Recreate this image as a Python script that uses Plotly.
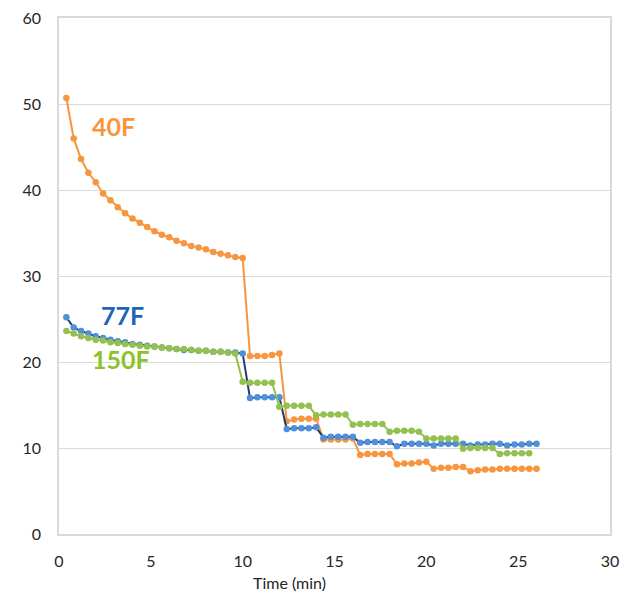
import plotly.graph_objects as go

time_a = [0.4, 0.8, 1.2, 1.6, 2.0, 2.4, 2.8, 3.2, 3.6, 4.0, 4.4, 4.8, 5.2, 5.6, 6.0, 6.4, 6.8, 7.2, 7.6, 8.0,
          8.4, 8.8, 9.2, 9.6, 10.0, 10.4, 10.8, 11.2, 11.6, 12.0, 12.4, 12.8, 13.2, 13.6, 14.0, 14.4, 14.8,
          15.2, 15.6, 16.0, 16.4, 16.8, 17.2, 17.6, 18.0, 18.4, 18.8, 19.2, 19.6, 20.0, 20.4, 20.8, 21.2,
          21.6, 22.0, 22.4, 22.8, 23.2, 23.6, 24.0, 24.4, 24.8, 25.2, 25.6, 26.0]
time_g = time_a[:64]

f40 = [50.7, 46.0, 43.6, 42.0, 40.9, 39.6, 38.8, 38.0, 37.3, 36.7, 36.2, 35.7, 35.2, 34.8, 34.5, 34.1, 33.8,
       33.5, 33.3, 33.1, 32.8, 32.6, 32.4, 32.2, 32.1,
       20.7, 20.7, 20.7, 20.8, 21.0,
       13.1, 13.3, 13.4, 13.4, 13.4,
       11.0, 11.0, 11.0, 11.0, 11.1,
       9.2, 9.3, 9.3, 9.3, 9.3,
       8.1, 8.2, 8.2, 8.3, 8.4,
       7.6, 7.7, 7.7, 7.8, 7.8,
       7.3, 7.4, 7.5, 7.5, 7.6, 7.6, 7.6, 7.6, 7.6, 7.6]

f77 = [25.2, 24.0, 23.6, 23.3, 23.0, 22.8, 22.6, 22.4, 22.3, 22.1, 22.0, 21.9, 21.8, 21.7, 21.6, 21.5, 21.4,
       21.4, 21.3, 21.3, 21.2, 21.2, 21.1, 21.1, 21.0,
       15.8, 15.9, 15.9, 15.9, 15.9,
       12.2, 12.3, 12.3, 12.3, 12.4,
       11.2, 11.3, 11.3, 11.3, 11.3,
       10.6, 10.7, 10.7, 10.7, 10.7,
       10.2, 10.5, 10.5, 10.5, 10.5,
       10.3, 10.5, 10.5, 10.5, 10.5,
       10.3, 10.4, 10.4, 10.5, 10.5, 10.3, 10.4, 10.4, 10.5, 10.5]

f150 = [23.6, 23.3, 23.0, 22.8, 22.6, 22.5, 22.3, 22.2, 22.1, 22.0, 21.9, 21.8, 21.8, 21.7, 21.6, 21.5, 21.5,
        21.4, 21.3, 21.3, 21.2, 21.2, 21.1, 21.0,
        17.7, 17.6, 17.6, 17.6, 17.6,
        14.8, 14.9, 14.9, 14.9, 14.9,
        13.8, 13.9, 13.9, 13.9, 13.9,
        12.7, 12.8, 12.8, 12.8, 12.8,
        11.9, 12.0, 12.0, 12.0, 11.9,
        11.1, 11.1, 11.1, 11.1, 11.1,
        9.9, 10.0, 10.0, 10.0, 10.0,
        9.3, 9.4, 9.4, 9.4, 9.4]

x_ticks = [0, 5, 10, 15, 20, 25, 30]
y_ticks = [0, 10, 20, 30, 40, 50, 60]

ORANGE = "#F7963F"
BLUE_M = "#4F8FDB"
BLUE_L = "#1F3F73"
GREEN = "#93C04E"

fig = go.Figure()
fig.add_trace(go.Scatter(x=time_a, y=f40, mode="lines+markers", name="40F",
                         line=dict(color=ORANGE, width=2), marker=dict(color=ORANGE, size=6.5)))
fig.add_trace(go.Scatter(x=time_a, y=f77, mode="lines+markers", name="77F",
                         line=dict(color=BLUE_L, width=2), marker=dict(color=BLUE_M, size=6.5)))
fig.add_trace(go.Scatter(x=time_g, y=f150, mode="lines+markers", name="150F",
                         line=dict(color=GREEN, width=2), marker=dict(color=GREEN, size=6.5)))

lab_font = "Lato, 'Open Sans', sans-serif"
fig.add_annotation(x=2.94, y=47.4, text="<b>40F</b>", showarrow=False,
                   font=dict(family=lab_font, size=25, color="#F7963F"))
fig.add_annotation(x=3.43, y=25.5, text="<b>77F</b>", showarrow=False,
                   font=dict(family=lab_font, size=25, color="#1E64B8"))
fig.add_annotation(x=3.37, y=20.3, text="<b>150F</b>", showarrow=False,
                   font=dict(family=lab_font, size=25, color="#8DC12C"))
fig.add_annotation(x=0.419, y=-0.094, xref="paper", yref="paper", xanchor="center", yanchor="middle",
                   text="Time (min)", showarrow=False,
                   font=dict(family=lab_font, size=16, color="#262626"))

# page body has an 8px margin, so the figure is shrunk/shifted to compensate
fig.update_layout(
    width=620, height=591,
    margin=dict(l=51, r=18, t=10, b=65, autoexpand=False),
    paper_bgcolor="white", plot_bgcolor="white",
    showlegend=False,
    font=dict(family=lab_font, size=16, color="#262626"),
)
fig.update_xaxes(range=[0, 30], tickvals=x_ticks, showgrid=False, zeroline=False, automargin=False,
                 showline=True, mirror=True, linecolor="#D9D9D9", linewidth=1.5,
                 ticks="outside", ticklen=12, tickcolor="rgba(0,0,0,0)", ticklabeloverflow="allow",
                 tickfont=dict(size=16, color="#262626"))
fig.update_yaxes(range=[0, 60], tickvals=y_ticks, showgrid=True, gridcolor="#D9D9D9", gridwidth=1,
                 zeroline=False, showline=True, mirror=True, linecolor="#D9D9D9", linewidth=1.5,
                 automargin=False, ticklabeloverflow="allow",
                 ticks="outside", ticklen=13, tickcolor="rgba(0,0,0,0)",
                 tickfont=dict(size=16, color="#262626"))

fig.write_html("out.html")
